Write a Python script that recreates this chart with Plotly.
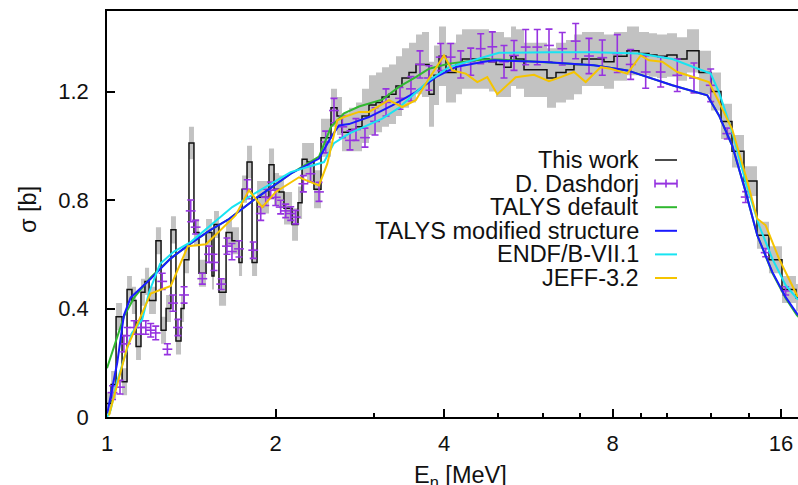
import plotly.graph_objects as go

# ---- This work: binned cross section (bin edges in MeV, sigma in b, band half-width in b)
bin_edges = [1.000, 1.017, 1.038, 1.064, 1.086, 1.108, 1.127, 1.150, 1.169, 1.189,
             1.223, 1.249, 1.275, 1.301, 1.328, 1.356, 1.373, 1.401, 1.430, 1.460,
             1.503, 1.540, 1.553, 1.585, 1.632, 1.672, 1.721, 1.743, 1.779, 1.816,
             1.854, 1.947, 1.988, 2.029, 2.071, 2.141, 2.194, 2.231, 2.277, 2.343,
             2.412, 2.513, 2.576, 2.629, 2.706, 2.785, 2.855, 2.938, 3.024, 3.100,
             3.190, 3.283, 3.365, 3.464, 3.565, 3.654, 3.761, 3.839, 3.919, 4.033,
             4.203, 4.308, 4.814, 4.954, 5.120, 5.270, 5.379, 5.559, 6.110, 6.341,
             6.607, 6.828, 7.056, 7.323, 7.725, 8.049, 8.491, 8.921, 9.296, 9.607,
             10.010, 10.430, 10.869, 11.419, 11.996, 12.500, 13.079, 13.740, 14.495, 15.228,
             16.065, 17.017, 17.950]
sigma_this_work = [0.05, 0.12, 0.37, 0.13, 0.47, 0.43, 0.26, 0.46, 0.50, 0.43,
                   0.65, 0.32, 0.40, 0.69, 0.28, 0.40, 0.58, 1.01, 0.68, 0.53,
                   0.68, 0.52, 0.71, 0.46, 0.68, 0.65, 0.57, 0.84, 0.94, 0.57,
                   0.81, 0.93, 0.84, 0.83, 0.77, 0.71, 0.79, 0.95, 0.94, 0.84,
                   1.03, 1.14, 1.11, 1.05, 1.06, 1.07, 1.11, 1.15, 1.16, 1.18,
                   1.19, 1.22, 1.25, 1.27, 1.30, 1.30, 1.19, 1.26, 1.33, 1.27,
                   1.30, 1.32, 1.31, 1.30, 1.29, 1.33, 1.32, 1.28, 1.25, 1.27,
                   1.28, 1.30, 1.32, 1.32, 1.31, 1.33, 1.35, 1.34, 1.335, 1.33,
                   1.335, 1.32, 1.35, 1.27, 1.20, 1.09, 0.98, 0.87, 0.67, 0.58,
                   0.47, 0.44]
unc_this_work = [0.04, 0.05, 0.05, 0.05, 0.05, 0.05, 0.05, 0.05, 0.05, 0.05,
                 0.05, 0.05, 0.05, 0.05, 0.05, 0.05, 0.05, 0.06, 0.05, 0.05,
                 0.05, 0.05, 0.05, 0.05, 0.05, 0.05, 0.05, 0.05, 0.06, 0.05,
                 0.06, 0.06, 0.06, 0.06, 0.06, 0.06, 0.06, 0.06, 0.07, 0.07,
                 0.07, 0.07, 0.07, 0.07, 0.08, 0.09, 0.10, 0.11, 0.11, 0.11,
                 0.11, 0.11, 0.11, 0.11, 0.11, 0.12, 0.12, 0.11, 0.11, 0.11,
                 0.11, 0.11, 0.11, 0.12, 0.11, 0.11, 0.11, 0.10, 0.11, 0.11,
                 0.11, 0.11, 0.10, 0.10, 0.10, 0.09, 0.09, 0.08, 0.08, 0.08,
                 0.08, 0.08, 0.08, 0.08, 0.07, 0.065, 0.06, 0.055, 0.05, 0.05,
                 0.05, 0.05]

# ---- D. Dashdorj data points
dash_E = [1.023, 1.055, 1.072, 1.087, 1.118, 1.149, 1.173, 1.197, 1.222, 1.255,
          1.282, 1.312, 1.339, 1.373, 1.411, 1.440, 1.480, 1.521, 1.553, 1.600,
          1.638, 1.672, 1.721, 1.781, 1.825, 1.882, 1.921, 1.961, 2.002, 2.043,
          2.086, 2.129, 2.173, 2.243, 2.310, 2.392, 2.459, 2.544, 2.633, 2.717,
          2.785, 2.890, 3.012, 3.151, 3.338, 3.492, 3.624, 3.761, 3.946, 4.112,
          4.285, 4.465, 4.652, 4.880, 5.120, 5.335, 5.598, 5.871, 6.161, 6.507,
          6.876, 7.263, 7.671, 8.159, 8.621, 9.170, 9.754, 10.443, 11.186, 11.982,
          12.828, 13.836, 15.023, 16.311]
dash_sigma = [0.09, 0.11, 0.27, 0.30, 0.33, 0.33, 0.33, 0.32, 0.31, 0.50,
              0.25, 0.42, 0.33, 0.45, 0.76, 0.70, 0.51, 0.60, 0.57, 0.49,
              0.63, 0.61, 0.62, 0.84, 0.615, 0.75, 0.81, 0.836, 0.81, 0.774,
              0.76, 0.75, 0.737, 0.86, 0.897, 0.83, 1.014, 1.13, 1.07, 1.02,
              1.06, 1.03, 1.09, 1.16, 1.175, 1.21, 1.30, 1.25, 1.327, 1.327,
              1.30, 1.31, 1.358, 1.365, 1.31, 1.333, 1.364, 1.364, 1.37, 1.358,
              1.386, 1.331, 1.325, 1.34, 1.30, 1.272, 1.272, 1.26, 1.25, 1.223,
              1.045, 0.811, 0.606, 0.465]
dash_err = [0.025, 0.025, 0.03, 0.03, 0.025, 0.025, 0.025, 0.025, 0.025, 0.03,
            0.02, 0.03, 0.03, 0.03, 0.04, 0.025, 0.02, 0.03, 0.03, 0.02,
            0.03, 0.03, 0.03, 0.035, 0.03, 0.025, 0.03, 0.03, 0.03, 0.025,
            0.025, 0.025, 0.025, 0.03, 0.03, 0.035, 0.04, 0.045, 0.04, 0.035,
            0.04, 0.035, 0.05, 0.05, 0.04, 0.045, 0.05, 0.045, 0.05, 0.05,
            0.05, 0.05, 0.055, 0.055, 0.06, 0.055, 0.065, 0.065, 0.06, 0.06,
            0.065, 0.065, 0.065, 0.07, 0.055, 0.06, 0.055, 0.06, 0.055, 0.06,
            0.02, 0.02, 0.015, 0.015]

# ---- Evaluated / model curves
talys_def_E = [1.000, 1.034, 1.072, 1.118, 1.197, 1.300, 1.411, 1.532, 1.652, 1.856,
               2.129, 2.392, 2.513, 2.651, 2.820, 3.100, 3.324, 3.561, 3.761, 4.083,
               4.683, 5.016, 6.035, 7.413, 8.502, 10.231, 11.815, 12.398, 13.095, 13.836,
               14.512, 15.436, 16.311, 17.087, 17.600]
talys_def_sigma = [0.18, 0.27, 0.37, 0.44, 0.515, 0.585, 0.64, 0.69, 0.73, 0.81,
                   0.897, 0.96, 1.07, 1.12, 1.145, 1.17, 1.217, 1.253, 1.284, 1.303,
                   1.318, 1.318, 1.309, 1.297, 1.278, 1.223, 1.186, 1.112, 1.0, 0.83,
                   0.67, 0.532, 0.438, 0.375, 0.35]

talys_mod_E = [1.001, 1.043, 1.072, 1.102, 1.197, 1.300, 1.411, 1.532, 1.652, 1.856,
               2.129, 2.392, 2.510, 2.597, 2.706, 2.938, 3.234, 3.561, 3.866, 4.197,
               4.683, 4.914, 6.035, 7.413, 8.502, 10.231, 11.815, 12.398, 13.095, 13.836,
               14.512, 15.436, 16.311, 17.087, 17.600]
talys_mod_sigma = [0.013, 0.20, 0.375, 0.44, 0.51, 0.585, 0.64, 0.69, 0.73, 0.81,
                   0.897, 0.953, 1.03, 1.075, 1.08, 1.106, 1.149, 1.198, 1.253, 1.29,
                   1.309, 1.315, 1.309, 1.297, 1.278, 1.223, 1.186, 1.112, 1.0, 0.83,
                   0.67, 0.535, 0.442, 0.381, 0.356]

endf_E = [1.000, 1.015, 1.042, 1.080, 1.108, 1.156, 1.189, 1.244, 1.317, 1.411,
          1.674, 1.856, 2.129, 2.442, 2.544, 2.706, 3.103, 3.324, 3.761, 4.083,
          4.683, 5.016, 6.161, 7.413, 8.921, 10.231, 11.982, 12.398, 13.095, 13.836,
          14.615, 15.436, 16.311, 17.087, 17.600]
endf_sigma = [0.0, 0.025, 0.13, 0.235, 0.31, 0.36, 0.46, 0.565, 0.61, 0.645,
              0.774, 0.83, 0.903, 0.94, 1.01, 1.045, 1.10, 1.14, 1.241, 1.29,
              1.327, 1.343, 1.345, 1.345, 1.34, 1.32, 1.266, 1.198, 1.05, 0.866,
              0.707, 0.584, 0.486, 0.437, 0.42]

jeff_E = [1.008, 1.087, 1.197, 1.300, 1.395, 1.503, 1.698, 1.793, 1.894, 2.002,
          2.203, 2.392, 2.475, 2.579, 2.651, 2.820, 2.938, 3.190, 3.369, 3.561,
          3.761, 4.000, 4.139, 4.374, 4.588, 4.780, 4.981, 5.373, 5.792, 6.161,
          6.465, 6.828, 7.165, 7.621, 7.941, 8.502, 8.984, 9.296, 9.818, 10.443,
          11.186, 11.898, 12.398, 13.095, 13.836, 14.512, 15.023, 15.868, 17.087, 17.600]
jeff_sigma = [0.006, 0.258, 0.455, 0.483, 0.630, 0.637, 0.744, 0.836, 0.774, 0.83,
              0.884, 0.854, 0.934, 1.094, 1.106, 1.125, 1.125, 1.168, 1.143, 1.168,
              1.248, 1.333, 1.278, 1.266, 1.235, 1.253, 1.19, 1.253, 1.262, 1.238,
              1.253, 1.272, 1.235, 1.29, 1.284, 1.266, 1.333, 1.315, 1.31, 1.272,
              1.253, 1.235, 1.161, 1.06, 0.89, 0.731, 0.707, 0.584, 0.449, 0.43]

x_ticks = [1, 2, 4, 8, 16]
x_tick_text = ["1", "2", "4", "8", "16"]
x_minor = [3, 5, 6, 7, 9, 10, 12, 14]
y_ticks = [0, 0.4, 0.8, 1.2]
y_tick_text = ["0", "0.4", "0.8", "1.2"]

C_GRAY = "#c2c2c2"
C_BLACK = "#111111"
C_PURPLE = "#9633e0"
C_GREEN = "#30b830"
C_BLUE = "#1a1aff"
C_CYAN = "#18e4f2"
C_YELLOW = "#f5c400"
FONT = "Liberation Sans, Arial, sans-serif"
TEXT_COLOR = "#111111"
TICK_SIZE = 22
LABEL_SIZE = 23.5

fig = go.Figure()

# uncertainty band: one rectangle per bin
band_x, band_y = [], []
for lo, hi, v, e in zip(bin_edges[:-1], bin_edges[1:], sigma_this_work, unc_this_work):
    band_x += [lo, hi, hi, lo, lo, None]
    band_y += [v - e, v - e, v + e, v + e, v - e, None]
fig.add_trace(go.Scatter(x=band_x, y=band_y, mode="lines", fill="toself",
                         fillcolor=C_GRAY, line=dict(width=0, color=C_GRAY),
                         hoverinfo="skip", showlegend=False))

# histogram outline
fig.add_trace(go.Scatter(x=bin_edges, y=sigma_this_work + [sigma_this_work[-1]],
                         mode="lines", line=dict(color=C_BLACK, width=1.5, shape="hv"),
                         showlegend=False))

# Dashdorj points with error bars
fig.add_trace(go.Scatter(x=dash_E, y=dash_sigma, mode="markers",
                         marker=dict(symbol="line-ew", size=7,
                                     line=dict(color=C_PURPLE, width=1.6)),
                         error_y=dict(type="data", array=dash_err, visible=True,
                                      color=C_PURPLE, thickness=1.6, width=3.5),
                         showlegend=False))

for xs, ys, col in [(talys_def_E, talys_def_sigma, C_GREEN),
                    (talys_mod_E, talys_mod_sigma, C_BLUE),
                    (endf_E, endf_sigma, C_CYAN),
                    (jeff_E, jeff_sigma, C_YELLOW)]:
    fig.add_trace(go.Scatter(x=xs, y=ys, mode="lines",
                             line=dict(color=col, width=2), showlegend=False))

# key (text right-aligned, samples on the right)
W_PLOT = 691.0
H_PLOT = 406.0
def px_to_paper_x(px):
    return (px - 107.0) / W_PLOT
def py_to_paper_y(py):
    return (417.0 - py) / H_PLOT

key_labels = ["This work", "D. Dashdorj", "TALYS default",
              "TALYS modified structure", "ENDF/B-VII.1", "JEFF-3.2"]
key_colors = [C_BLACK, C_PURPLE, C_GREEN, C_BLUE, C_CYAN, C_YELLOW]
key_rows_px = [160.0, 183.6, 207.2, 230.8, 254.4, 278.0]

annotations = []
shapes = []
for lab, col, row in zip(key_labels, key_colors, key_rows_px):
    annotations.append(dict(text=lab, x=px_to_paper_x(641), y=py_to_paper_y(row),
                            xref="paper", yref="paper", xanchor="right", yanchor="middle",
                            showarrow=False,
                            font=dict(size=LABEL_SIZE, color=TEXT_COLOR, family=FONT)))
    yy = py_to_paper_y(row)
    shapes.append(dict(type="line", xref="paper", yref="paper",
                       x0=px_to_paper_x(655), x1=px_to_paper_x(677), y0=yy, y1=yy,
                       line=dict(color=col, width=1.5 if col == C_BLACK else 2)))
    if col == C_PURPLE:
        for cx in (655, 666, 677):
            shapes.append(dict(type="line", xref="paper", yref="paper",
                               x0=px_to_paper_x(cx), x1=px_to_paper_x(cx),
                               y0=yy - 4 / H_PLOT, y1=yy + 4 / H_PLOT,
                               line=dict(color=C_PURPLE, width=1.6)))

annotations.append(dict(text="σ [b]", x=px_to_paper_x(28), y=py_to_paper_y(210),
                        xref="paper", yref="paper", textangle=-90, showarrow=False,
                        xanchor="center", yanchor="middle",
                        font=dict(size=LABEL_SIZE, color=TEXT_COLOR, family=FONT)))
annotations.append(dict(text="E<sub>n</sub> [MeV]", x=px_to_paper_x(460), y=py_to_paper_y(476),
                        xref="paper", yref="paper", showarrow=False,
                        xanchor="center", yanchor="middle",
                        font=dict(size=LABEL_SIZE, color=TEXT_COLOR, family=FONT)))

fig.update_layout(
    width=798, height=485,
    margin=dict(l=107, r=0, t=11, b=68),
    paper_bgcolor="white", plot_bgcolor="white",
    showlegend=False,
    annotations=annotations, shapes=shapes,
    font=dict(family=FONT, size=TICK_SIZE, color=TEXT_COLOR),
)
fig.update_xaxes(type="log", range=[0, 1.2345],
                 tickmode="array", tickvals=x_ticks, ticktext=x_tick_text,
                 ticks="inside", ticklen=8, tickwidth=1.5, tickcolor="black",
                 minor=dict(tickmode="array", tickvals=x_minor, ticks="inside",
                            ticklen=4, tickwidth=1.5, tickcolor="black", showgrid=False),
                 showline=True, linewidth=2, linecolor="black", mirror=True,
                 showgrid=False, zeroline=False, ticklabelstandoff=6,
                 tickfont=dict(size=TICK_SIZE, family=FONT, color=TEXT_COLOR))
fig.update_yaxes(range=[0, 1.497],
                 tickmode="array", tickvals=y_ticks, ticktext=y_tick_text,
                 ticks="inside", ticklen=8, tickwidth=1.5, tickcolor="black",
                 showline=True, linewidth=1.5, linecolor="black", mirror=False,
                 showgrid=False, zeroline=False, ticklabelstandoff=12,
                 tickfont=dict(size=TICK_SIZE, family=FONT, color=TEXT_COLOR))

fig.write_html("out.html")
